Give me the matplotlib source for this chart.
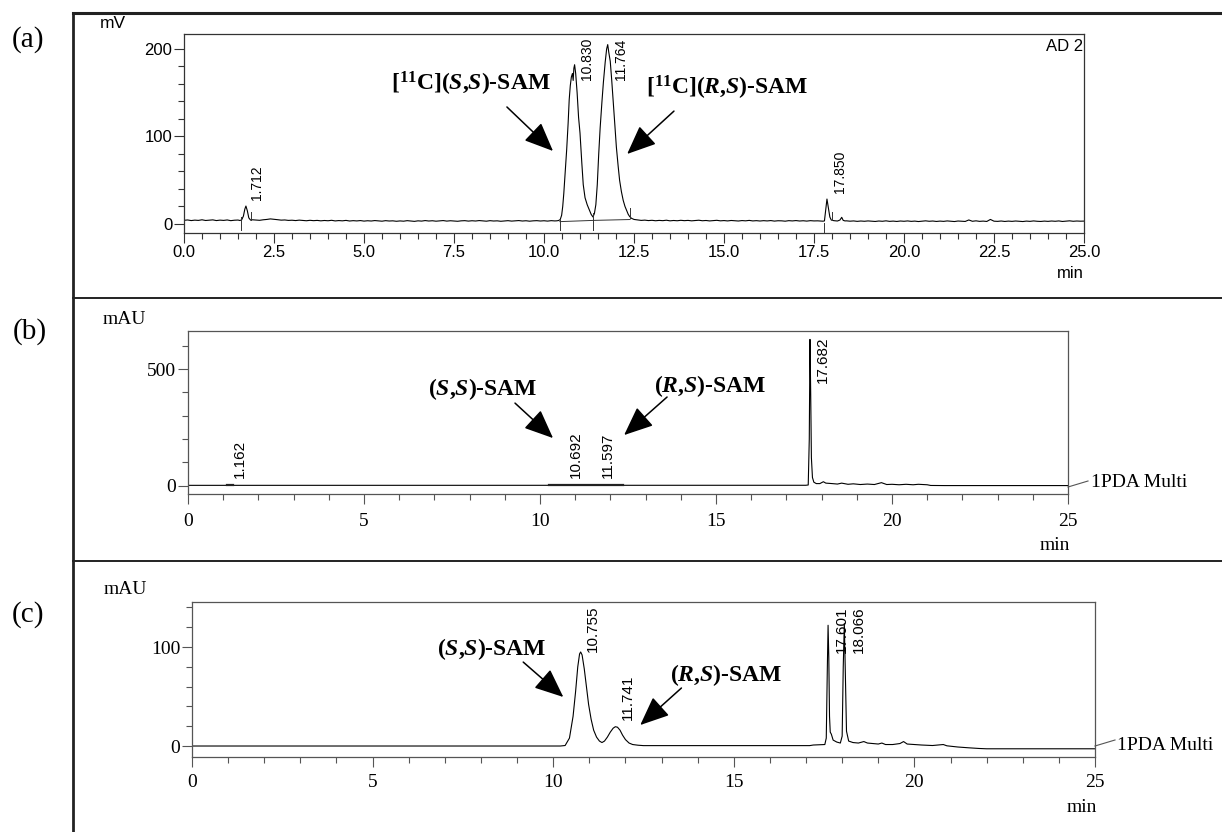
import numpy as np
import matplotlib.pyplot as plt
import matplotlib.ticker as mticker
from matplotlib.lines import Line2D

W, H = 1222, 832
SANS = 'Liberation Sans'
SERIF = 'Liberation Serif'

plt.rcParams['mathtext.fontset'] = 'custom'
plt.rcParams['mathtext.rm'] = 'Liberation Serif:bold'
plt.rcParams['mathtext.it'] = 'Liberation Serif:italic:bold'
plt.rcParams['mathtext.bf'] = 'Liberation Serif:bold'

# ---------------- data: panel (a), radio detector (mV) ----------------
# baseline read every 0.1 min from 0 to 25 min
a_base = [
    4.2, 4.6, 3.9, 4.4, 4.1, 4.8, 4.0, 4.3, 4.7, 3.9,
    4.4, 4.1, 4.6, 3.8, 4.3, 4.5, 4.2, 4.0, 4.2, 4.1,
    4.5, 4.2, 4.8, 5.2, 5.8, 5.4, 4.9, 4.4, 4.6, 4.1,
    4.3, 3.9, 4.4, 4.0, 3.7, 4.2, 3.8, 4.1, 3.6, 4.0,
    3.7, 4.2, 3.5, 3.9, 3.6, 4.1, 3.4, 3.8, 3.5, 3.9,
    3.3, 3.7, 3.4, 3.9, 3.5, 3.2, 3.8, 3.4, 3.6, 3.1,
    3.5, 3.2, 3.8, 3.4, 3.0, 3.6, 3.3, 3.9, 3.4, 3.7,
    3.2, 3.6, 3.9, 3.3, 3.7, 3.4, 3.1, 3.6, 3.8, 3.3,
    3.7, 3.4, 3.9, 3.5, 3.2, 3.8, 3.4, 3.6, 3.1, 3.5,
    3.8, 3.3, 3.6, 3.9, 3.4, 3.7, 3.2, 3.6, 3.8, 3.4,
    3.7, 3.3, 3.8, 3.5, 3.6, 3.6, 3.6, 3.6, 3.6, 3.6,
    3.6, 3.6, 3.6, 3.6, 3.6, 3.6, 3.6, 3.6, 3.6, 3.6,
    3.6, 3.6, 3.6, 3.6, 3.6, 5.2, 4.6, 4.1, 4.4, 3.9,
    4.2, 3.7, 4.1, 3.8, 4.3, 3.6, 4.0, 3.7, 4.2, 3.8,
    4.1, 3.6, 3.9, 4.3, 3.7, 4.0, 3.5, 3.9, 4.2, 3.6,
    3.9, 3.5, 4.0, 3.7, 3.4, 3.9, 3.6, 4.1, 3.5, 3.8,
    3.4, 3.8, 3.5, 3.9, 3.3, 3.7, 3.6, 3.2, 3.8, 3.5,
    3.9, 3.4, 3.7, 3.3, 3.8, 3.5, 3.6, 3.4, 3.4, 3.4,
    3.4, 3.4, 3.4, 3.4, 3.6, 3.2, 3.5, 3.0, 3.4, 3.1,
    3.5, 3.2, 2.9, 3.4, 3.1, 3.6, 3.0, 3.3, 2.9, 3.4,
    3.1, 3.5, 3.0, 3.3, 2.8, 3.2, 3.6, 3.1, 3.4, 2.9,
    3.3, 3.0, 3.5, 3.1, 2.8, 3.4, 3.2, 2.9, 4.6, 3.1,
    3.6, 3.0, 3.3, 2.9, 5.2, 3.2, 3.0, 3.4, 2.9, 3.3,
    3.0, 3.4, 3.1, 2.8, 3.3, 3.0, 3.5, 3.1, 2.9, 3.3,
    3.0, 3.4, 3.1, 3.5, 2.9, 3.2, 3.6, 3.1, 3.4, 3.2,
    3.3,
]
a_peak_1712 = [(1.55, 4.0), (1.60, 4.6), (1.65, 9.0), (1.69, 17.0), (1.72, 20.5),
               (1.76, 15.0), (1.80, 7.0), (1.85, 4.4), (1.90, 4.8)]
a_peak_main = [(10.35, 3.6), (10.40, 3.9), (10.45, 5.0), (10.49, 10.0), (10.52, 20.0),
               (10.55, 35.0), (10.59, 60.0), (10.63, 85.0), (10.67, 115.0), (10.70, 142.0),
               (10.73, 158.0), (10.76, 168.0), (10.79, 172.0), (10.81, 164.0), (10.83, 178.0),
               (10.85, 182.0), (10.88, 172.0), (10.92, 150.0), (10.96, 122.0), (11.00, 104.0),
               (11.05, 70.0), (11.09, 45.0), (11.14, 30.0), (11.20, 22.0), (11.26, 16.0),
               (11.31, 11.0), (11.36, 8.0), (11.40, 12.0), (11.44, 22.0), (11.48, 45.0),
               (11.52, 80.0), (11.56, 110.0), (11.61, 140.0), (11.65, 162.0), (11.70, 185.0),
               (11.74, 200.0), (11.77, 205.0), (11.80, 196.0), (11.84, 186.0), (11.88, 165.0),
               (11.92, 142.0), (11.97, 112.0), (12.01, 88.0), (12.06, 66.0), (12.10, 50.0),
               (12.15, 37.0), (12.20, 27.0), (12.25, 20.0), (12.29, 16.0), (12.34, 11.0),
               (12.38, 8.5), (12.43, 6.5), (12.48, 5.6)]
a_peak_1785 = [(17.75, 3.2), (17.79, 3.5), (17.82, 14.0), (17.86, 28.5), (17.90, 18.0),
               (17.94, 8.0), (17.98, 4.5), (18.05, 3.8), (18.15, 3.4), (18.22, 4.5),
               (18.27, 7.6), (18.31, 4.2), (18.36, 3.5)]
# integration baseline and peak start/end marks (time, from, to)
a_intline = [(10.44, 2.7), (11.37, 4.1), (12.39, 5.1)]
a_marks = [(1.58, -7, 7.6), (1.87, 4.4, 14), (10.44, -7, 6), (11.37, -7, 12),
           (12.39, 6.5, 18), (17.79, -10, 1), (17.99, 4, 14)]
a_rt = ['1.712', '10.830', '11.764', '17.850']

# ---------------- data: panel (b), UV of reference (S,S)/(R,S) mix ----------------
b_trace = [(0.0, 1.5), (17.55, 1.8), (17.62, 3.0), (17.65, 200.0), (17.67, 627.0),
           (17.69, 400.0), (17.71, 120.0), (17.74, 35.0), (17.78, 15.0), (17.85, 9.0),
           (17.95, 9.0), (18.05, 17.0), (18.12, 11.0), (18.30, 9.0), (18.45, 7.0),
           (18.57, 11.0), (18.75, 6.0), (18.90, 8.0), (19.10, 5.0), (19.30, 7.0),
           (19.50, 5.0), (19.70, 13.0), (19.85, 5.0), (20.00, 6.0), (20.20, 4.0),
           (20.40, 6.0), (20.60, 4.0), (20.75, 6.0), (21.00, 4.0), (21.10, 1.0),
           (21.50, 0.5), (25.0, 0.5)]
b_segs = [(1.10, 1.28), (10.26, 12.36)]
b_rt = ['1.162', '10.692', '11.597', '17.682']

# ---------------- data: panel (c), UV of product ----------------
c_trace = [(0.0, 0.0), (10.20, 0.0), (10.33, 0.5), (10.45, 8.0), (10.55, 30.0),
           (10.62, 55.0), (10.68, 80.0), (10.73, 93.0), (10.76, 95.0), (10.80, 92.0),
           (10.86, 78.0), (10.92, 60.0), (10.98, 42.0), (11.05, 27.0), (11.12, 16.0),
           (11.20, 9.0), (11.28, 5.0), (11.35, 3.5), (11.42, 5.0), (11.50, 9.0),
           (11.58, 14.0), (11.66, 18.0), (11.72, 19.5), (11.78, 19.0), (11.85, 16.0),
           (11.92, 11.0), (12.00, 6.5), (12.10, 3.0), (12.20, 1.5), (12.35, 0.8),
           (12.50, 0.4), (17.10, 0.4), (17.20, 1.0), (17.52, 1.5), (17.56, 8.0),
           (17.59, 80.0), (17.61, 122.0), (17.63, 90.0), (17.65, 30.0), (17.67, 14.0),
           (17.70, 12.0), (17.75, 6.0), (17.85, 4.0), (17.95, 3.0), (18.00, 10.0),
           (18.03, 80.0), (18.06, 124.0), (18.09, 70.0), (18.12, 15.0), (18.18, 5.0),
           (18.30, 3.5), (18.45, 3.0), (18.60, 4.5), (18.70, 3.0), (18.85, 2.5),
           (19.00, 2.0), (19.10, 3.0), (19.20, 1.5), (19.40, 1.5), (19.60, 2.5),
           (19.70, 4.5), (19.80, 2.0), (20.00, 1.5), (20.20, 1.0), (20.50, 0.5),
           (20.80, 1.5), (20.90, 0.2), (21.20, -1.0), (21.50, -1.8), (21.80, -2.5),
           (22.00, -2.8), (25.0, -2.8)]
c_rt = ['10.755', '11.741', '17.601', '18.066']


def fx(x):
    return x / W


def fy(y):
    return 1 - y / H


def add_axes(l, t, r, b):
    return fig.add_axes([fx(l), fy(b), fx(r) - fx(l), fy(t) - fy(b)])


def style(ax, family, size, xmaj, xmin_, ymaj, ymin_, ylim, fmt=None,
          color='#444444', xpad=1):
    ax.set_xlim(0, 25)
    ax.set_ylim(*ylim)
    ax.xaxis.set_major_locator(mticker.MultipleLocator(xmaj))
    ax.xaxis.set_minor_locator(mticker.MultipleLocator(xmin_))
    ax.yaxis.set_major_locator(mticker.MultipleLocator(ymaj))
    ax.yaxis.set_minor_locator(mticker.MultipleLocator(ymin_))
    if fmt:
        ax.xaxis.set_major_formatter(mticker.FormatStrFormatter(fmt))
    ax.tick_params(which='both', direction='out', top=False, right=False,
                   color=color, width=0.8)
    ax.tick_params(which='major', length=7.5, pad=1, labelsize=size,
                   labelfontfamily=family)
    ax.tick_params(axis='x', which='major', pad=xpad)
    ax.tick_params(which='minor', length=4)
    for s in ax.spines.values():
        s.set_color(color)
        s.set_linewidth(0.9)


def arrow(ax, start, end):
    ax.annotate('', xy=end, xytext=start,
                arrowprops=dict(arrowstyle='-|>,head_length=0.75,head_width=0.32',
                                mutation_scale=24, lw=1.1, color='black',
                                shrinkA=0, shrinkB=0))


def name(ax, x, y, s):
    ax.text(x, y, s, ha='center', va='center', fontsize=17,
            family=SERIF, fontweight='bold')


def rt_labels(ax, labels, pos, size, family):
    for lab, (x, y) in zip(labels, pos):
        ax.text(x, y, lab, rotation=90, ha='center', va='bottom',
                fontsize=size, family=family)


fig = plt.figure(figsize=(W / 100, H / 100), dpi=100)

# outer table-like frame
for xs, ys, lw in [([73, 73], [13, 832], 2.0), ([73, 1222], [13, 13], 2.2),
                   ([73, 1222], [298, 298], 1.4), ([73, 1222], [561, 561], 1.4)]:
    fig.add_artist(Line2D([fx(v) for v in xs], [fy(v) for v in ys],
                          transform=fig.transFigure, color='#222222', lw=lw))

# ---------------- panel (a) ----------------
ax = add_axes(184, 34, 1084, 233)
a_t = np.round(np.arange(len(a_base)) * 0.1, 1)
a_v = np.array(a_base)
keep = np.ones(len(a_t), bool)
pts_t, pts_v = [], []
for seg in (a_peak_1712, a_peak_main, a_peak_1785):
    st = [p[0] for p in seg]
    keep &= ~((a_t >= min(st)) & (a_t <= max(st)))
    pts_t += st
    pts_v += [p[1] for p in seg]
all_t = np.concatenate([a_t[keep], pts_t])
all_v = np.concatenate([a_v[keep], pts_v])
order = np.argsort(all_t)
ax.plot(all_t[order], all_v[order], color='black', lw=0.8)
ax.plot([p[0] for p in a_intline], [p[1] for p in a_intline], color='#333333', lw=0.7)
for t, v0, v1 in a_marks:
    ax.plot([t, t], [v0, v1], color='#333333', lw=0.7)
style(ax, SANS, 12, 2.5, 0.5, 100, 20, (-10.3, 217.1), fmt='%.1f', color='#333333')
rt_labels(ax, a_rt, [(2.03, 27.4), (11.19, 164.6), (12.14, 164.6), (18.22, 35.4)], 10, SANS)
name(ax, 7.97, 160, r'$[^{11}$C$](S$,$S)$-SAM')
name(ax, 15.08, 155, r'$[^{11}$C$](R$,$S)$-SAM')
arrow(ax, (8.97, 133.7), (10.25, 83.4))
arrow(ax, (13.61, 129), (12.31, 80))
ax.text(24.97, 211, 'AD 2', ha='right', va='top', fontsize=12, family=SANS)
fig.text(fx(113), fy(24), 'mV', ha='center', va='center', fontsize=12.5, family=SANS)
fig.text(fx(1084), fy(273), 'min', ha='right', va='center', fontsize=12, family=SANS)
fig.text(fx(28), fy(40), '(a)', ha='center', va='center', fontsize=21, family=SERIF)

# ---------------- panel (b) ----------------
ax = add_axes(188, 331, 1068, 494)
ax.plot([p[0] for p in b_trace], [p[1] for p in b_trace], color='black', lw=0.8)
for t0, t1 in b_segs:
    ax.plot([t0, t1], [1.5, 1.5], color='#222222', lw=1.6)
style(ax, SERIF, 14, 5, 1, 500, 100, (-35.6, 663), color='#555555', xpad=6.5)
rt_labels(ax, b_rt, [(1.48, 33), (11.02, 33), (11.93, 33), (18.04, 440)], 11, SANS)
name(ax, 8.38, 414, r'$(S$,$S)$-SAM')
name(ax, 14.83, 427, r'$(R$,$S)$-SAM')
arrow(ax, (9.29, 354), (10.37, 204))
arrow(ax, (13.61, 380), (12.39, 217))
fig.text(fx(124), fy(320), 'mAU', ha='center', va='center', fontsize=14, family=SERIF)
fig.text(fx(1055), fy(545), 'min', ha='center', va='center', fontsize=14, family=SERIF)
fig.add_artist(Line2D([fx(1068), fx(1088)], [fy(487), fy(481)],
                      transform=fig.transFigure, color='#555555', lw=0.8))
fig.text(fx(1091), fy(482), '1PDA Multi', ha='left', va='center', fontsize=14, family=SERIF)
fig.text(fx(30), fy(332), '(b)', ha='center', va='center', fontsize=21, family=SERIF)

# ---------------- panel (c) ----------------
ax = add_axes(192, 602, 1095, 757)
ax.plot([p[0] for p in c_trace], [p[1] for p in c_trace], color='black', lw=0.8)
style(ax, SERIF, 14, 5, 1, 100, 20, (-11.1, 145.5), color='#555555', xpad=4.5)
rt_labels(ax, c_rt, [(11.11, 95), (12.08, 26), (17.99, 94), (18.45, 94)], 11, SANS)
name(ax, 8.30, 98, r'$(S$,$S)$-SAM')
name(ax, 14.78, 71.7, r'$(R$,$S)$-SAM')
arrow(ax, (9.17, 84.8), (10.28, 49.5))
arrow(ax, (13.55, 58.6), (12.41, 21.2))
fig.text(fx(125), fy(590), 'mAU', ha='center', va='center', fontsize=14, family=SERIF)
fig.text(fx(1082), fy(807), 'min', ha='center', va='center', fontsize=14, family=SERIF)
fig.add_artist(Line2D([fx(1095), fx(1115)], [fy(746), fy(740)],
                      transform=fig.transFigure, color='#555555', lw=0.8))
fig.text(fx(1117), fy(745), '1PDA Multi', ha='left', va='center', fontsize=14, family=SERIF)
fig.text(fx(28), fy(615), '(c)', ha='center', va='center', fontsize=21, family=SERIF)

fig.savefig('out.png', dpi=100)
